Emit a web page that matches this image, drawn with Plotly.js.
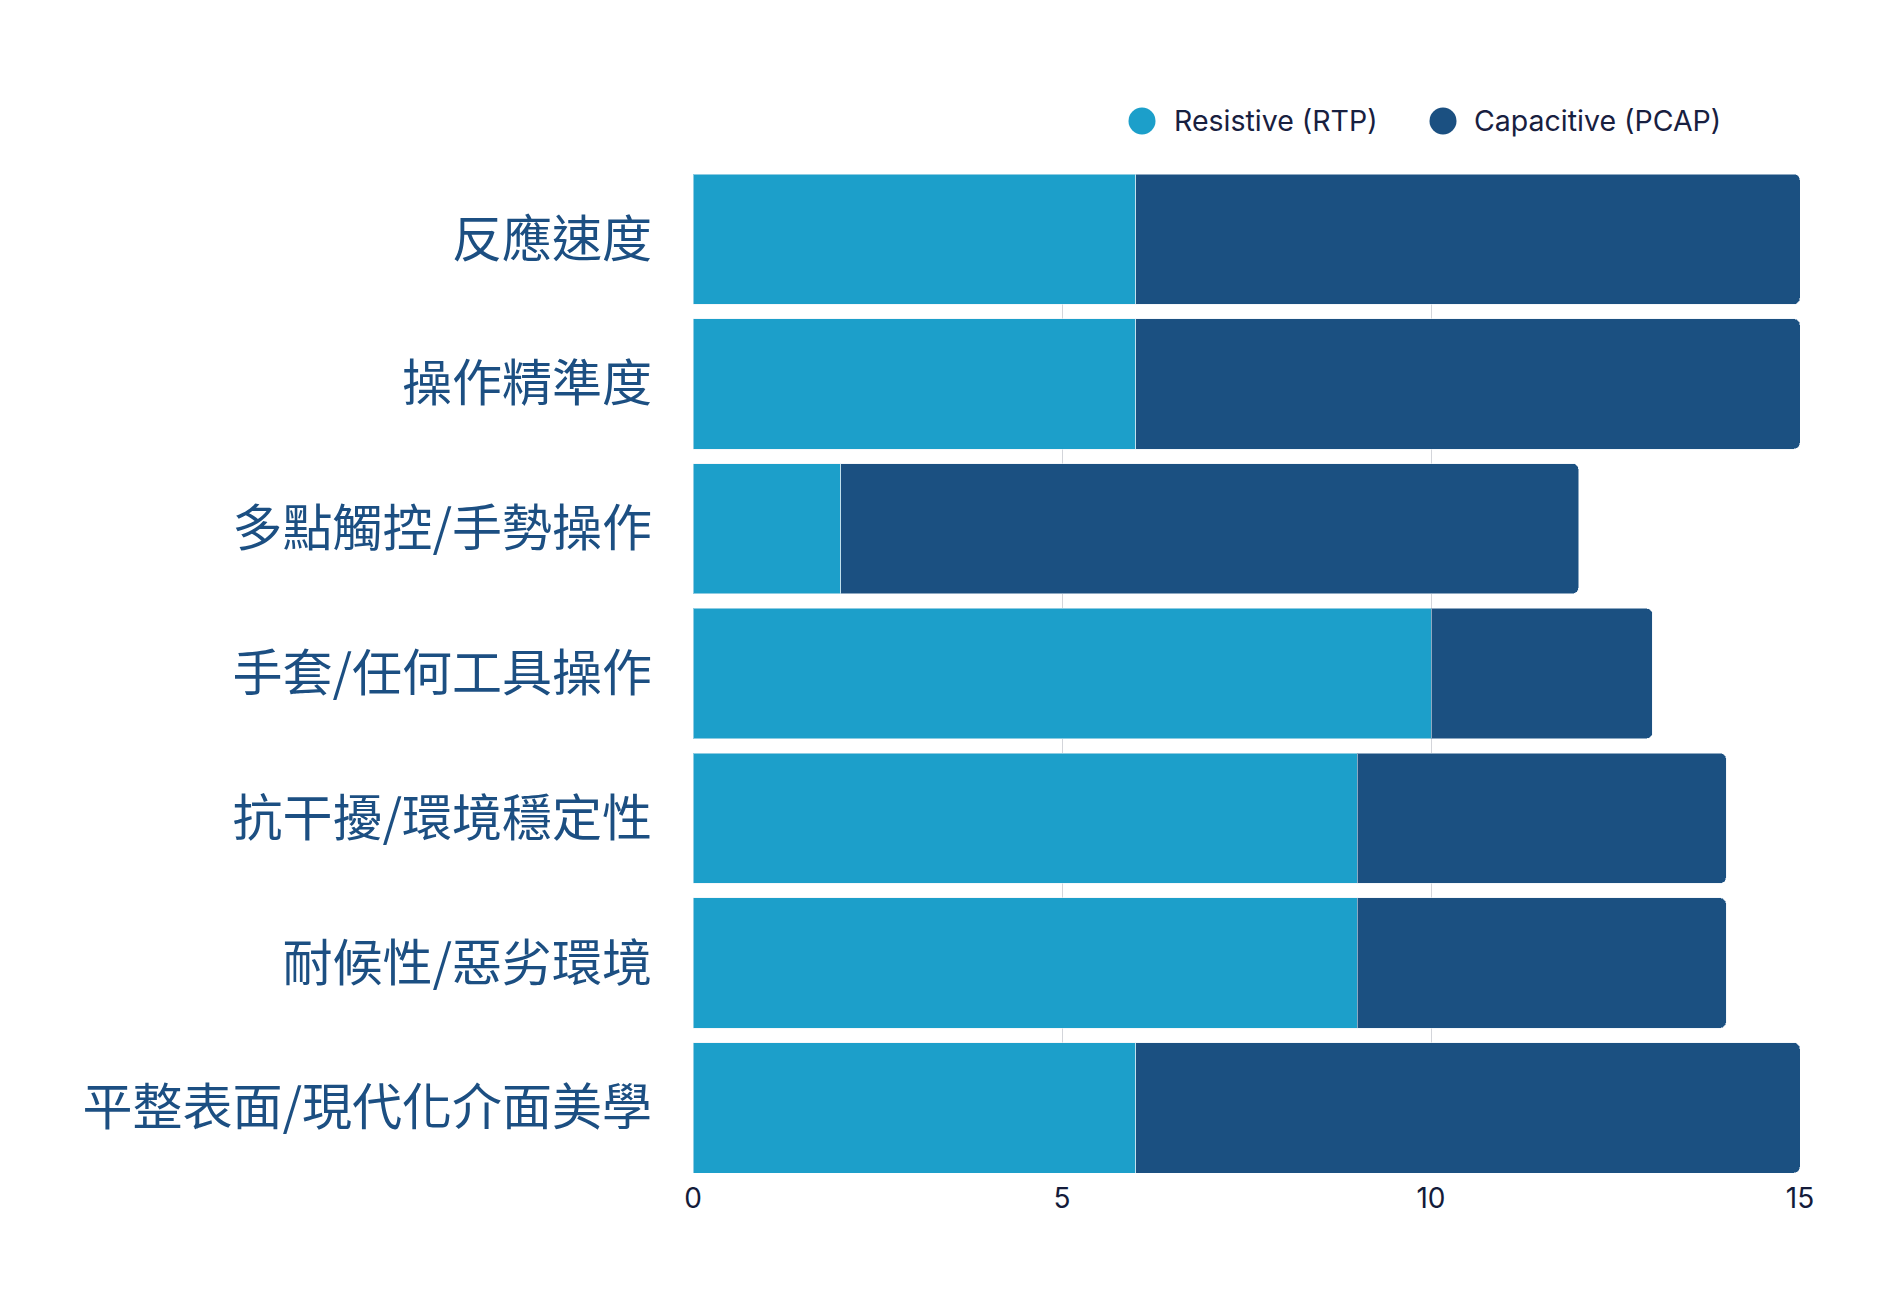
<!DOCTYPE html>
<html>
<head>
<meta charset="utf-8">
<script src="https://cdn.plot.ly/plotly-3.0.1.min.js"></script>
<style>
html,body{margin:0;padding:0;background:#ffffff;}
#chart{width:1896px;height:1301px;}
</style>
</head>
<body>
<div id="chart"></div>
<script>
const categories = ["反應速度", "操作精準度", "多點觸控/手勢操作", "手套/任何工具操作", "抗干擾/環境穩定性", "耐候性/惡劣環境", "平整表面/現代化介面美學"];
const resistive = [6, 6, 2, 10, 9, 9, 6];
const capacitive = [9, 9, 10, 3, 5, 5, 9];
const seriesNames = ["Resistive (RTP)", "Capacitive (PCAP)"];
const xTicks = [0, 5, 10, 15];

const colors = ["#1c9fca", "#1b5081"];
const lineCol = "rgba(235,240,246,0.55)";

const W = 1896, H = 1301;
const M = {l: 693, r: 96, t: 174, b: 128};
const plotW = W - M.l - M.r, plotH = H - M.t - M.b;
const px2paperX = p => (p - M.l) / plotW;
const px2paperY = p => 1 - (p - M.t) / plotH;

const gap = 0.1;

const traces = [resistive, capacitive].map((vals, i) => ({
  type: "bar", orientation: "h", y: categories, x: vals, name: seriesNames[i],
  marker: {color: colors[i], line: {color: lineCol, width: 1}}, showlegend: false
}));

// Custom legend (circle swatches + labels)
const legendMarkerX = [1142, 1443];
const legendTextX = [1172, 1472];
const legendY = 121;
const shapes = seriesNames.map((n, i) => ({
  type: "circle", xref: "paper", yref: "paper",
  xsizemode: "pixel", ysizemode: "pixel",
  xanchor: px2paperX(legendMarkerX[i]), yanchor: px2paperY(legendY),
  x0: -13.5, x1: 13.5, y0: -13.5, y1: 13.5,
  fillcolor: colors[i], line: {width: 0}
}));
const annotations = seriesNames.map((n, i) => ({
  text: n, xref: "paper", yref: "paper",
  x: px2paperX(legendTextX[i]), y: px2paperY(legendY),
  xanchor: "left", yanchor: "middle", showarrow: false,
  font: {family: "Inter, sans-serif", size: 28.5, color: "#182040"}
}));

const layout = {
  width: W, height: H,
  paper_bgcolor: "#ffffff", plot_bgcolor: "#ffffff",
  margin: {l: M.l, r: M.r, t: M.t, b: M.b, pad: 0},
  barmode: "stack",
  bargap: gap,
  barcornerradius: 6,
  font: {family: "Inter, 'Noto Sans CJK TC', sans-serif", color: "#141c3a"},
  xaxis: {
    range: [0, 15], tickvals: xTicks, ticktext: xTicks.map(String),
    showgrid: true, gridcolor: "#d3d5da", gridwidth: 1,
    zeroline: false, showline: false, ticks: "",
    ticklabelstandoff: 6,
    tickfont: {family: "Inter, sans-serif", size: 28, color: "#141c3a"},
    fixedrange: true
  },
  yaxis: {
    type: "category",
    range: [categories.length - 0.5 - gap / 2, -0.5 + gap / 2],
    showgrid: false, zeroline: false, showline: false, ticks: "",
    ticklabelstandoff: 40,
    tickfont: {family: "'Noto Sans CJK TC', 'Noto Sans CJK SC', sans-serif", size: 50, color: "#1c4f82"},
    fixedrange: true
  },
  showlegend: false,
  shapes: shapes,
  annotations: annotations,
  hovermode: false
};

Plotly.newPlot("chart", traces, layout, {displayModeBar: false, staticPlot: true});
</script>
</body>
</html>
